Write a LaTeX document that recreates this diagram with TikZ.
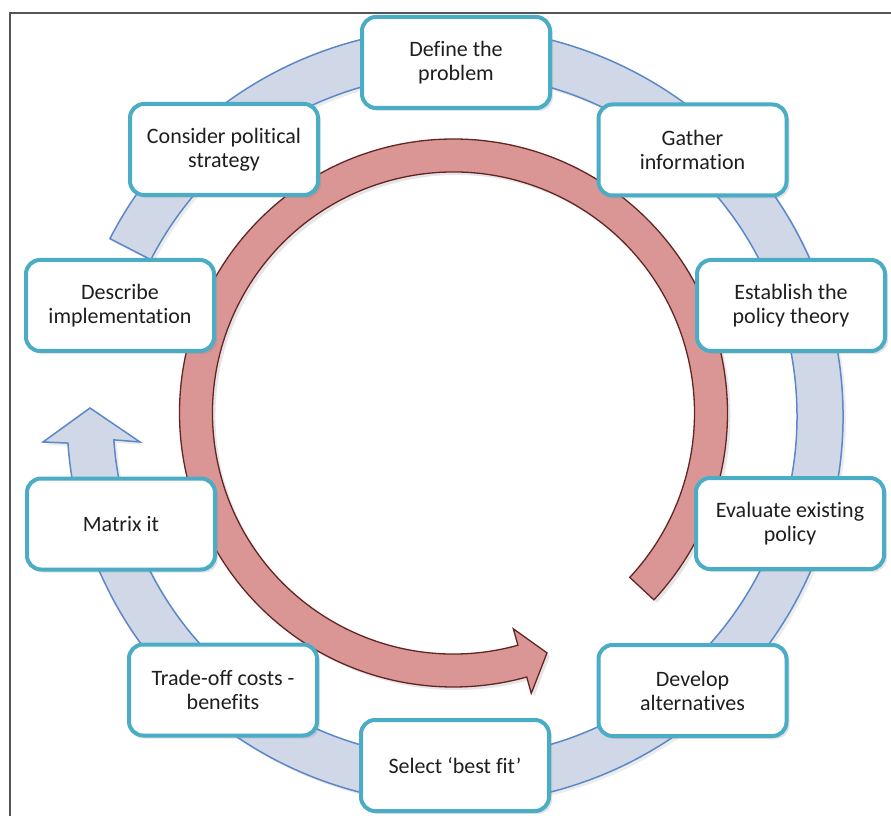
\documentclass[tikz,border=0pt]{standalone}
\usepackage{fontspec}
\setmainfont{Carlito}[Ligatures=NoCommon]
\usetikzlibrary{shadows,calc}
\definecolor{boxline}{HTML}{4BACC6}
\definecolor{txt}{HTML}{1E1E1E}
\definecolor{ringfill}{HTML}{D0D8E8}
\definecolor{ringline}{HTML}{5A88C8}
\definecolor{arrowfill}{HTML}{D99694}
\definecolor{arrowline}{HTML}{632523}
\definecolor{frameline}{HTML}{555555}
\begin{document}
\begin{tikzpicture}[x=1pt,y=1pt,
  stage/.style={draw=boxline, line width=4pt, fill=white, rounded corners=14pt,
    minimum width=188pt, minimum height=91pt, align=center,
    font=\fontsize{22}{24}\selectfont, text=txt,
    drop shadow={shadow xshift=3pt, shadow yshift=-3pt, opacity=0.22}},
  ringstyle/.style={fill=ringfill, draw=ringline, line width=1.5pt, line join=miter,
    drop shadow={shadow xshift=3pt, shadow yshift=-3pt, opacity=0.15}},
  cyclearrow/.style={fill=arrowfill, draw=arrowline, line width=1.3pt, line join=miter,
    drop shadow={shadow xshift=3pt, shadow yshift=-3pt, opacity=0.2}}]
\useasboundingbox (0,0) rectangle (891,815);
\fill[white] (0,0) rectangle (891,815);
% frame
\draw[frameline, line width=1.5pt] (10,-5) -- (10,802) -- (900,802);

\coordinate (B) at (455,399);
\coordinate (R) at (453.5,402);

% blue circular arrow (clockwise)
\draw[ringstyle] ($(B)+(152.8:388)$) arc[start angle=152.8, end angle=-176, radius=388]
  -- (43,373) -- (90,407) -- (140,373)
  -- ($(B)+(-176:342)$) arc[start angle=-176, end angle=152.8, radius=342] -- cycle;

% red circular arrow (counter-clockwise)
\draw[cyclearrow] ($(R)+(-43:274)$) arc[start angle=-43, end angle=285.5, radius=274]
  -- ($(R)+(285.5:291)$) -- ($(R)+(291.3:257.5)$) -- ($(R)+(285.5:224)$)
  -- ($(R)+(285.5:241)$) arc[start angle=285.5, end angle=-43, radius=241] -- cycle;

% stages
\node[stage] (define)    at (456,752.5) {Define the\\problem};
\node[stage] (gather)    at (692.5,665) {Gather\\information};
\node[stage] (establish) at (791,509.5) {Establish the\\policy theory};
\node[stage] (evaluate)  at (790,291.5) {Evaluate existing\\policy};
\node[stage] (develop)   at (692.5,124.5) {Develop\\alternatives};
\node[stage] (select)    at (455,49.5) {Select ‘best fit’};
\node[stage] (tradeoff)  at (223,125) {Trade-off costs -\\benefits};
\node[stage] (matrix)    at (121,291) {Matrix it};
\node[stage] (describe)  at (120,509.5) {Describe\\implementation};
\node[stage] (consider)  at (224,665.5) {Consider political\\strategy};
\end{tikzpicture}
\end{document}
